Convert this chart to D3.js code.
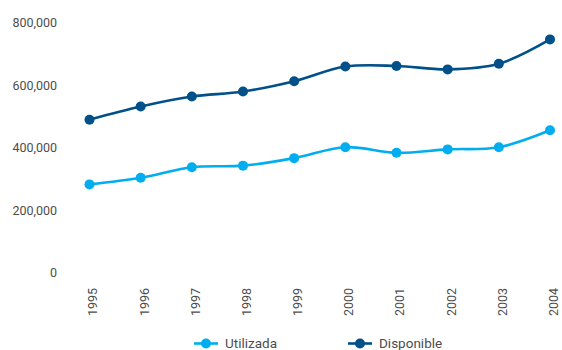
<!DOCTYPE html>
<html><head><meta charset="utf-8">
<script src="https://cdn.jsdelivr.net/npm/d3@7"></script>
<style>body{margin:0;background:#fff}svg{display:block}</style>
</head><body>
<svg id="c" width="562" height="350"></svg>
<script>
const years = ["1995","1996","1997","1998","1999","2000","2001","2002","2003","2004"];
const utilizada = [282000,303000,337000,342000,366000,401000,383000,394000,401000,455000];
const disponible = [489000,531000,563000,579000,612000,659000,661000,650000,668000,746000];
const yTicks = [0,200000,400000,600000,800000];
const seriesNames = ["Utilizada","Disponible"];
const colors = ["#00aeef","#00508a"];

const svg = d3.select("#c");
const font = "Roboto, 'DejaVu Sans', sans-serif";
const x = d3.scalePoint().domain(years).range([89.5,550]);
const y = d3.scaleLinear().domain([0,800000]).range([272.5,22.5]);

// y axis labels
const ya = svg.append("g").attr("transform","translate(57,0)")
  .call(d3.axisLeft(y).tickValues(yTicks).tickSize(0).tickPadding(0).tickFormat(d3.format(",")));
ya.select(".domain").remove();
ya.selectAll("text").attr("font-family",font).attr("font-size",12.5).attr("fill","#4d4d4d");

// x axis labels
const xa = svg.append("g").attr("transform","translate(3,288)")
  .call(d3.axisBottom(x).tickSize(0).tickPadding(0));
xa.select(".domain").remove();
xa.selectAll("text").attr("font-family",font).attr("font-size",12.5).attr("fill","#4d4d4d")
  .attr("transform","rotate(-90)").attr("text-anchor","end").attr("dy","0.35em").attr("x",0).attr("y",0);

const data = [utilizada, disponible];
const line = d3.line().x((d,i)=>x(years[i])).y(d=>y(d)).curve(d3.curveCatmullRom.alpha(0.5));
data.forEach((vals,k)=>{
  svg.append("path").attr("d",line(vals)).attr("fill","none").attr("stroke",colors[k]).attr("stroke-width",2.6);
  svg.append("g").selectAll("circle").data(vals).join("circle")
    .attr("cx",(d,i)=>x(years[i])).attr("cy",d=>y(d)).attr("r",5).attr("fill",colors[k]);
});

// legend
const legX = [194,348];
const lg = svg.append("g");
seriesNames.forEach((n,k)=>{
  const g = lg.append("g").attr("transform",`translate(${legX[k]},343.5)`);
  g.append("line").attr("x1",0).attr("x2",24).attr("stroke",colors[k]).attr("stroke-width",2.6);
  g.append("circle").attr("cx",12).attr("r",5).attr("fill",colors[k]);
  g.append("text").attr("x",31).attr("dy","0.35em").attr("font-family",font).attr("font-size",13.5)
    .attr("fill","#4d4d4d").text(n);
});
</script>
</body></html>
